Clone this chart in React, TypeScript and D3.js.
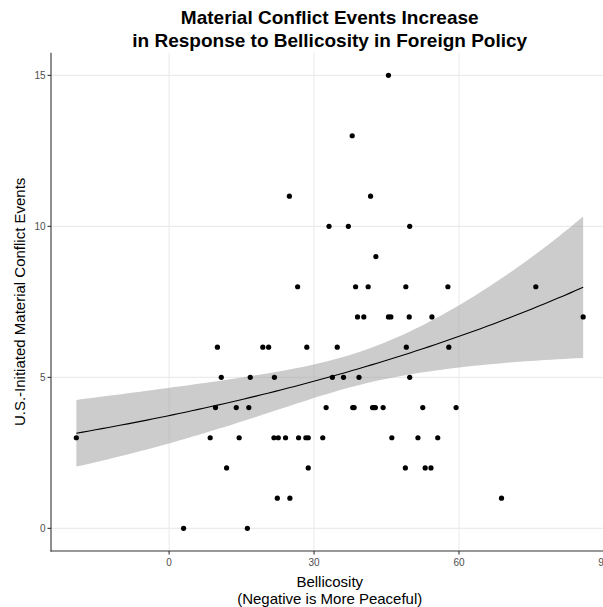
import React from "react";
import * as d3 from "d3";

// Bellicosity (x) and U.S.-initiated material conflict events (y), grouped by y value
const bellicosity: number[] = [
  45.4,
  37.9,
  24.9, 41.7,
  33.1, 37.1, 49.8,
  42.8,
  26.6, 38.6, 41.2, 49.0, 57.7, 75.9,
  39.0, 40.3, 45.4, 45.9, 49.7, 54.4, 85.7,
  10.0, 19.4, 20.6, 28.5, 34.8, 49.1, 57.9,
  10.8, 16.8, 21.8, 33.8, 36.1, 39.3, 49.8,
  9.6, 13.9, 16.5, 32.5, 38.0, 38.3, 42.1, 42.4, 42.7, 44.3, 52.5, 59.4,
  -19.2, 8.5, 14.5, 21.7, 22.6, 24.1, 26.8, 28.3, 28.8, 31.8, 46.1, 51.5, 55.6,
  11.9, 28.8, 48.9, 53.0, 54.2,
  22.4, 25.0, 68.8,
  3.0, 16.2,
];
const events: number[] = [
  15,
  13,
  11, 11,
  10, 10, 10,
  9,
  8, 8, 8, 8, 8, 8,
  7, 7, 7, 7, 7, 7, 7,
  6, 6, 6, 6, 6, 6, 6,
  5, 5, 5, 5, 5, 5, 5,
  4, 4, 4, 4, 4, 4, 4, 4, 4, 4, 4, 4,
  3, 3, 3, 3, 3, 3, 3, 3, 3, 3, 3, 3, 3,
  2, 2, 2, 2, 2,
  1, 1, 1,
  0, 0,
];
const xTicks: number[] = [0, 30, 60, 90];
const yTicks: number[] = [0, 5, 10, 15];
const titleLines: string[] = [
  "Material Conflict Events Increase",
  "in Response to Bellicosity in Foreign Policy",
];
const xTitleLines: string[] = ["Bellicosity", "(Negative is More Peaceful)"];
const yTitle = "U.S.-Initiated Material Conflict Events";

// Poisson GLM (log link) fitted by IRLS, as geom_smooth(method = "glm", family = poisson)
function fitPoisson(xs: number[], ys: number[]) {
  let b0 = Math.log(d3.mean(ys) as number);
  let b1 = 0;
  let inv = [[0, 0], [0, 0]];
  for (let it = 0; it < 50; it++) {
    let s00 = 0, s01 = 0, s11 = 0, g0 = 0, g1 = 0;
    for (let i = 0; i < xs.length; i++) {
      const mu = Math.exp(b0 + b1 * xs[i]);
      s00 += mu; s01 += mu * xs[i]; s11 += mu * xs[i] * xs[i];
      g0 += ys[i] - mu; g1 += (ys[i] - mu) * xs[i];
    }
    const det = s00 * s11 - s01 * s01;
    inv = [[s11 / det, -s01 / det], [-s01 / det, s00 / det]];
    const d0 = inv[0][0] * g0 + inv[0][1] * g1;
    const d1 = inv[1][0] * g0 + inv[1][1] * g1;
    b0 += d0; b1 += d1;
    if (Math.abs(d0) + Math.abs(d1) < 1e-12) break;
  }
  return { b0, b1, inv };
}

export default function App() {
  const W = 603, H = 607;
  const [xmin, xmax] = d3.extent(bellicosity) as [number, number];
  const [ymin, ymax] = d3.extent(events) as [number, number];
  const xe = (xmax - xmin) * 0.05, ye = (ymax - ymin) * 0.05;
  const x = d3.scaleLinear().domain([xmin - xe, xmax + xe]).range([51, 608.5]);
  const y = d3.scaleLinear().domain([ymin - ye, ymax + ye]).range([551, 52.7]);

  const { b0, b1, inv } = fitPoisson(bellicosity, events);
  const grid = d3.range(80).map((i) => xmin + ((xmax - xmin) * i) / 79);
  const pred = grid.map((gx) => {
    const eta = b0 + b1 * gx;
    const mu = Math.exp(eta);
    const v = inv[0][0] + 2 * inv[0][1] * gx + inv[1][1] * gx * gx;
    const se = mu * Math.sqrt(v);
    return { x: gx, mu, lo: mu - 1.96 * se, hi: mu + 1.96 * se };
  });
  const area = d3.area<any>().x((d) => x(d.x)).y0((d) => y(d.lo)).y1((d) => y(d.hi));
  const line = d3.line<any>().x((d) => x(d.x)).y((d) => y(d.mu));

  const left = 51, bottom = 551, right = 608.5, top = 52.7;
  const cx = (left + right) / 2;
  const font = "'Liberation Sans', Arial, Helvetica, sans-serif";

  return (
    <svg width={W} height={H} style={{ position: "absolute", left: 0, top: 0 }} fontFamily={font}>
      <rect width={W} height={H} fill="#fff" />
      {xTicks.map((t) => (
        <line key={"gx" + t} x1={x(t)} x2={x(t)} y1={top} y2={bottom} stroke="#ebebeb" strokeWidth={1.1} />
      ))}
      {yTicks.map((t) => (
        <line key={"gy" + t} x1={left} x2={right} y1={y(t)} y2={y(t)} stroke="#ebebeb" strokeWidth={1.1} />
      ))}
      <path d={area(pred) as string} fill="#999999" fillOpacity={0.5} />
      {bellicosity.map((bx, i) => (
        <circle key={i} cx={x(bx)} cy={y(events[i])} r={2.6} fill="#000" />
      ))}
      <path d={line(pred) as string} fill="none" stroke="#000" strokeWidth={1.1} />
      <line x1={left} x2={left} y1={top} y2={bottom + 0.5} stroke="#333" strokeWidth={1.1} />
      <line x1={left - 0.5} x2={right} y1={bottom} y2={bottom} stroke="#333" strokeWidth={1.1} />
      {yTicks.map((t) => (
        <g key={"ty" + t}>
          <line x1={left - 3.5} x2={left} y1={y(t)} y2={y(t)} stroke="#333" strokeWidth={1.1} />
          <text x={left - 5.5} y={y(t)} dy="0.35em" textAnchor="end" fontSize={10} fill="#4d4d4d">{t}</text>
        </g>
      ))}
      {xTicks.map((t) => (
        <g key={"tx" + t}>
          <line x1={x(t)} x2={x(t)} y1={bottom} y2={bottom + 3.5} stroke="#333" strokeWidth={1.1} />
          <text x={x(t)} y={bottom + 15} textAnchor="middle" fontSize={10} fill="#4d4d4d">{t}</text>
        </g>
      ))}
      {titleLines.map((s, i) => (
        <text key={"t" + i} x={cx} y={24 + i * 22.5} textAnchor="middle" fontSize={19} fontWeight="bold" fill="#000">{s}</text>
      ))}
      {xTitleLines.map((s, i) => (
        <text key={"xt" + i} x={cx} y={586.5 + i * 17} textAnchor="middle" fontSize={15} fill="#000">{s}</text>
      ))}
      <text transform={`translate(24.5, ${(top + bottom) / 2}) rotate(-90)`} textAnchor="middle" fontSize={15} fill="#000">{yTitle}</text>
    </svg>
  );
}
